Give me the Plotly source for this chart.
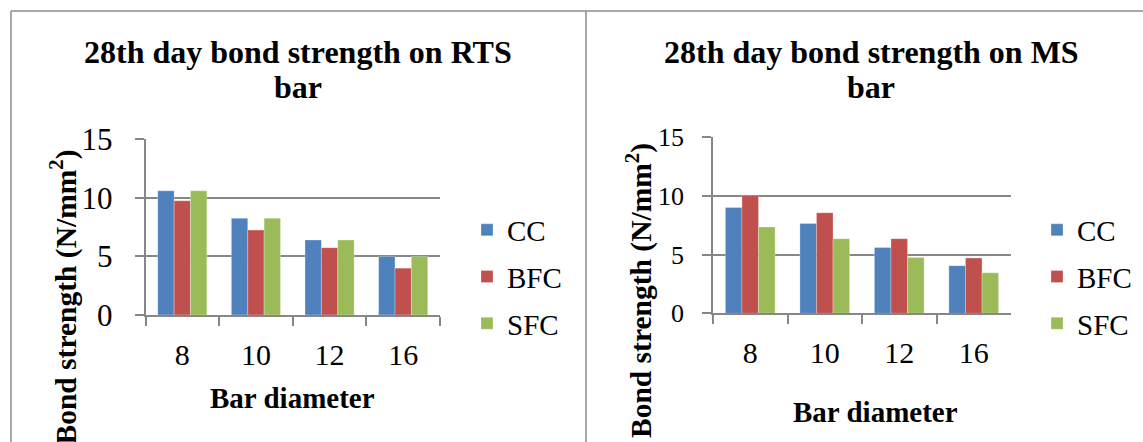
import plotly.graph_objects as go

W, H = 1143, 442

categories = ["8", "10", "12", "16"]
series_names = ["CC", "BFC", "SFC"]
colors = ["#4F81BD", "#C0504D", "#9BBB59"]

rts_cc = [10.6, 8.25, 6.4, 5.0]
rts_bfc = [9.75, 7.25, 5.75, 4.0]
rts_sfc = [10.6, 8.25, 6.4, 5.0]

ms_cc = [9.0, 7.65, 5.6, 4.05]
ms_bfc = [10.05, 8.55, 6.35, 4.7]
ms_sfc = [7.35, 6.35, 4.75, 3.45]

y_ticks = [0, 5, 10, 15]

title_left = ["28th day bond strength on RTS", "bar"]
title_right = ["28th day bond strength on MS", "bar"]
x_title = "Bar diameter"
y_title = "Bond strength (N/mm<sup>2</sup>)"

FONT = "Liberation Serif"
GRID = "#878787"


def px(x):
    return x / W


def py(y):
    return 1 - y / H


fig = go.Figure()

edge = dict(color="rgba(255,255,255,0.35)", width=0.8)
for vals, name, col in zip([rts_cc, rts_bfc, rts_sfc], series_names, colors):
    fig.add_trace(go.Bar(x=categories, y=vals, name=name, marker=dict(color=col, line=edge),
                         xaxis="x", yaxis="y", legend="legend", legendgroup="L" + name))
for vals, name, col in zip([ms_cc, ms_bfc, ms_sfc], series_names, colors):
    fig.add_trace(go.Bar(x=categories, y=vals, name=name, marker=dict(color=col, line=edge),
                         xaxis="x2", yaxis="y2", legend="legend2", legendgroup="R" + name))

axis_common = dict(showline=True, linecolor=GRID, linewidth=1.5, ticks="outside", tickcolor=GRID, tickwidth=1.5,
                   ticklen=9, color="black", automargin=False)

fig.update_layout(
    width=W, height=H, autosize=False,
    margin=dict(l=0, r=0, t=0, b=0, pad=0, autoexpand=False),
    paper_bgcolor="white", plot_bgcolor="white",
    barmode="group", bargap=0.333, bargroupgap=0,
    font=dict(family=FONT, color="black"),
    showlegend=True,
    xaxis=dict(domain=[px(145.5), px(440)], anchor="y", type="category", tickson="boundaries",
               tickfont=dict(size=30, family=FONT), ticklabelstandoff=12, **axis_common),
    yaxis=dict(domain=[py(315), py(139.3)], anchor="x", range=[0, 15], tickvals=y_ticks,
               showgrid=True, gridcolor=GRID, gridwidth=1.5, zeroline=False,
               tickfont=dict(size=31, family=FONT), ticklabelstandoff=16, **axis_common),
    xaxis2=dict(domain=[px(713), px(1011)], anchor="y2", type="category", tickson="boundaries",
                tickfont=dict(size=30, family=FONT), ticklabelstandoff=12, **axis_common),
    yaxis2=dict(domain=[py(313.3), py(137)], anchor="x2", range=[0, 15], tickvals=y_ticks,
                showgrid=True, gridcolor=GRID, gridwidth=1.5, zeroline=False,
                tickfont=dict(size=26, family=FONT), ticklabelstandoff=13, **axis_common),
    legend=dict(x=px(467), y=py(277), xanchor="left", yanchor="middle", font=dict(size=29, family=FONT),
                tracegroupgap=6, bgcolor="rgba(0,0,0,0)"),
    legend2=dict(x=px(1037), y=py(277), xanchor="left", yanchor="middle", font=dict(size=29, family=FONT),
                 tracegroupgap=6, bgcolor="rgba(0,0,0,0)"),
)

ann = []
bold = dict(family=FONT, size=32, color="black", weight="bold")
ann.append(dict(text=title_left[0], x=px(298), y=py(52), xref="paper", yref="paper", xanchor="center", yanchor="middle", showarrow=False, font=bold))
ann.append(dict(text=title_left[1], x=px(298), y=py(87), xref="paper", yref="paper", xanchor="center", yanchor="middle", showarrow=False, font=bold))
ann.append(dict(text=title_right[0], x=px(871), y=py(52), xref="paper", yref="paper", xanchor="center", yanchor="middle", showarrow=False, font=bold))
ann.append(dict(text=title_right[1], x=px(871), y=py(87), xref="paper", yref="paper", xanchor="center", yanchor="middle", showarrow=False, font=bold))
axfont = dict(family=FONT, size=29, color="black", weight="bold")
ann.append(dict(text=x_title, x=px(292), y=py(398), xref="paper", yref="paper", xanchor="center", yanchor="middle", showarrow=False, font=axfont))
ann.append(dict(text=x_title, x=px(875), y=py(412), xref="paper", yref="paper", xanchor="center", yanchor="middle", showarrow=False, font=axfont))
ytf = dict(family=FONT, size=29.5, color="black", weight="bold")
ann.append(dict(text=y_title, x=px(64), y=py(148), xref="paper", yref="paper", xanchor="center", yanchor="top", textangle=-90, showarrow=False, font=ytf))
ann.append(dict(text=y_title, x=px(639.5), y=py(141), xref="paper", yref="paper", xanchor="center", yanchor="top", textangle=-90, showarrow=False, font=ytf))
fig.update_layout(annotations=ann)

frame = dict(color="#8c8c8c", width=1.5)
fig.add_shape(type="line", xref="paper", yref="paper", x0=px(11), x1=1.01, y0=py(11), y1=py(11), line=frame)
fig.add_shape(type="line", xref="paper", yref="paper", x0=px(11), x1=px(11), y0=py(11), y1=-0.05, line=frame)
fig.add_shape(type="line", xref="paper", yref="paper", x0=px(586), x1=px(586), y0=py(11), y1=-0.05, line=frame)

fig.write_html("out.html")
